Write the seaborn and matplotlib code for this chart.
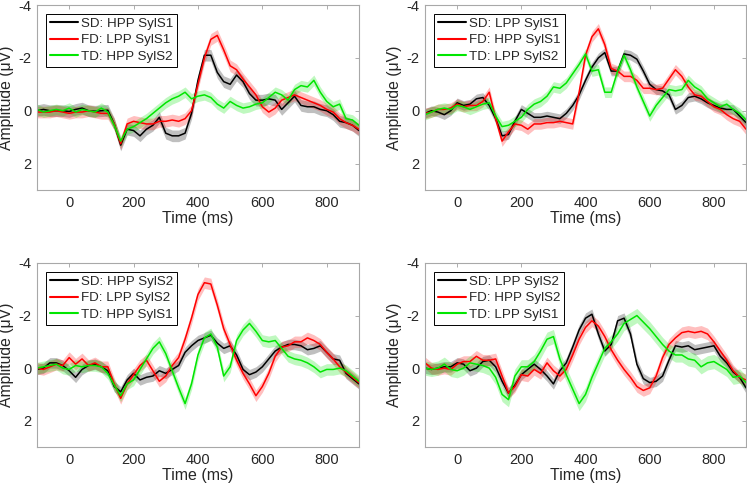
import numpy as np
import pandas as pd
import matplotlib
matplotlib.use("Agg")
import matplotlib.pyplot as plt
import seaborn as sns

# time axis (ms), one sample every 20 ms
time_ms = np.arange(-100, 901, 20)

# panel 1
p1_black = [0, -0.05, 0, 0, 0, 0.03, -0.05, -0.1, 0, 0.02, 0, -0.02, 0.5, 1.3, 0.7, 0.75, 0.95, 0.7, 0.55, 0.25,
            0.85, 0.95, 0.95, 0.85, 0.1, -1.15, -2.1, -2.1, -1.45, -1.1, -1.0, -1.35, -1.1, -0.65, -0.4, -0.4,
            -0.45, -0.4, -0.05, -0.3, -0.55, -0.2, -0.15, -0.15, -0.05, 0, 0.15, 0.4, 0.45, 0.55, 0.75]
p1_red = [0.05, 0.05, 0.05, 0, 0.05, 0.1, 0.05, 0.05, 0, 0.05, 0.1, 0.1, 0.5, 1.25, 0.5, 0.4, 0.45, 0.5, 0.5, 0.4,
          0.4, 0.35, 0.4, 0.3, 0.0, -1.0, -2.0, -2.7, -2.85, -2.3, -1.7, -1.55, -1.2, -0.9, -0.6, -0.15,
          0.05, -0.1, -0.4, -0.5, -0.6, -0.5, -0.4, -0.3, -0.2, -0.05, 0.05, 0.3, 0.45, 0.55, 0.7]
p1_green = [-0.05, 0.05, 0, -0.05, 0, -0.1, 0.05, -0.05, 0, 0.05, -0.1, 0.05, 0.55, 1.15, 0.7, 0.6, 0.45, 0.3,
            0.1, -0.1, -0.3, -0.45, -0.55, -0.7, -0.45, -0.55, -0.6, -0.5, -0.25, -0.1, -0.35, -0.2, -0.1,
            -0.15, -0.25, -0.3, -0.5, -0.7, -0.6, -0.4, -0.8, -0.95, -0.9, -1.15, -0.7, -0.35, -0.15, -0.25,
            0.3, 0.35, 0.55]

# panel 2
p2_black = [0.1, 0, 0.05, 0.15, 0, -0.3, -0.2, -0.25, -0.45, -0.5, -0.2, 0.3, 0.95, 0.9, 0.4, -0.05, 0.1, 0.25,
            0.25, 0.2, 0.25, 0.3, 0.1, -0.2, -0.6, -1.15, -1.65, -2.0, -2.2, -1.5, -1.5, -2.15, -2.1, -1.95,
            -1.5, -1.0, -0.8, -0.75, -0.6, -0.05, -0.2, -0.5, -0.55, -0.45, -0.3, -0.2, -0.1, -0.05, -0.05,
            0.2, 0.45]
p2_red = [0.1, 0.05, -0.05, -0.05, -0.1, -0.25, -0.15, -0.2, -0.2, -0.35, -0.7, 0.3, 1.15, 0.8, 0.5, 0.55, 0.7,
          0.5, 0.5, 0.45, 0.45, 0.4, 0.45, 0.5, -0.7, -2.1, -2.8, -3.1, -2.5, -1.6, -1.5, -1.3, -1.3, -1.15,
          -0.85, -0.85, -0.8, -0.85, -1.2, -1.55, -1.3, -0.9, -0.6, -0.55, -0.35, -0.15, -0.05, 0.15, 0.3,
          0.4, 0.7]
p2_green = [0.15, 0.05, -0.05, -0.1, -0.05, -0.2, -0.15, -0.05, -0.15, -0.25, -0.3, 0.2, 0.6, 0.55, 0.4, 0.25,
            -0.05, -0.25, -0.35, -0.55, -0.9, -0.85, -1.05, -1.4, -1.75, -2.15, -1.5, -1.55, -0.7, -0.7, -1.5,
            -2.1, -1.55, -0.9, -0.35, 0.2, -0.2, -0.5, -0.8, -0.75, -0.8, -1.15, -0.9, -0.75, -0.45, -0.3,
            -0.15, -0.25, -0.05, 0.1, 0.35]

# panel 3
p3_black = [0.05, 0, -0.2, -0.2, -0.1, 0.1, 0.35, 0.05, -0.1, -0.15, -0.05, 0.1, 0.7, 0.9, 0.45, 0.2, 0.45, 0.35,
            0.3, 0.1, 0.2, 0.05, -0.1, -0.6, -0.85, -1.05, -1.15, -1.25, -0.95, -0.75, -0.85, -0.5, 0.05, 0.25,
            0.15, -0.05, -0.35, -0.65, -0.8, -0.9, -0.9, -0.85, -0.7, -0.75, -0.85, -0.6, -0.35, -0.3, 0.2,
            0.4, 0.6]
p3_red = [0, 0.05, -0.05, -0.15, -0.1, -0.4, -0.15, -0.35, -0.1, -0.2, -0.05, -0.05, 0.6, 1.15, 0.6, 0.25, -0.1,
          -0.3, 0.1, 0.5, 0.3, -0.1, -0.4, -1.1, -1.9, -2.8, -3.25, -3.2, -2.4, -1.5, -0.9, -0.3, 0.2, 0.6,
          1.05, 0.7, 0.2, -0.45, -0.8, -0.85, -1.0, -1.0, -1.15, -1.05, -0.9, -0.6, -0.35, -0.05, 0.15, 0.35,
          0.55]
p3_green = [0, -0.05, -0.1, -0.15, 0, 0.05, -0.1, -0.05, -0.1, -0.1, -0.05, 0.2, 0.65, 1.05, 0.6, 0.45, 0.05,
            -0.35, -0.75, -1.0, -0.55, 0.1, 0.75, 1.35, 0.6, -0.5, -1.15, -1.3, -0.8, 0.3, -0.05, -1.05, -1.45,
            -1.7, -1.4, -1.05, -1.0, -1.05, -0.75, -0.45, -0.35, -0.3, -0.2, -0.05, 0.15, 0.05, 0.05, 0, 0.1,
            0.3, 0.5]

# panel 4
p4_black = [0, 0.05, 0, -0.05, -0.05, -0.2, -0.15, 0.1, 0, -0.25, -0.3, -0.05, 0.5, 0.95, 0.65, 0.25, 0.05,
            -0.15, 0.05, 0.3, 0.6, 0.1, -0.2, -0.8, -1.45, -1.9, -2.05, -1.3, -0.65, -0.9, -1.8, -1.9, -1.3,
            -0.15, 0.4, 0.55, 0.5, 0.3, -0.3, -0.85, -0.8, -0.85, -0.7, -0.75, -0.8, -0.85, -0.45, -0.2, 0.15,
            0.35, 0.75]
p4_red = [-0.2, 0, 0.05, 0, 0.05, -0.15, -0.25, -0.25, -0.45, -0.3, -0.3, -0.35, 0.3, 0.95, 0.7, 0.25, 0.3, 0.05,
          0.2, -0.2, 0.1, 0.3, 0.05, -0.5, -1.1, -1.55, -1.8, -1.6, -1.2, -0.7, -0.3, 0.05, 0.35, 0.7, 0.85,
          0.75, 0.3, -0.4, -0.9, -1.15, -1.35, -1.4, -1.35, -1.4, -1.3, -1.0, -0.65, -0.3, 0.1, 0.35, 0.45]
p4_green = [0, 0.05, 0, -0.15, 0.05, 0.1, 0, -0.2, -0.15, -0.1, 0, 0.35, 1.0, 1.2, 0.3, -0.05, -0.05, -0.25,
            -0.65, -1.1, -1.2, -0.35, 0.25, 0.8, 1.35, 1.0, 0.35, -0.2, -0.75, -1.0, -1.3, -1.7, -1.85, -2.0,
            -1.75, -1.5, -1.2, -0.9, -0.65, -0.5, -0.5, -0.35, -0.3, -0.05, -0.2, -0.25, -0.1, 0.05, 0.35,
            0.3, 0.55]

# standard error band half-width (uV), one per curve
p1_sem = [0.22, 0.22, 0.2]
p2_sem = [0.18, 0.2, 0.2]
p3_sem = [0.2, 0.22, 0.22]
p4_sem = [0.2, 0.22, 0.27]

p1_labels = ["SD: HPP SylS1", "FD: LPP SylS1", "TD: HPP SylS2"]
p2_labels = ["SD: LPP SylS1", "FD: HPP SylS1", "TD: LPP SylS2"]
p3_labels = ["SD: HPP SylS2", "FD: LPP SylS2", "TD: HPP SylS1"]
p4_labels = ["SD: LPP SylS2", "FD: HPP SylS2", "TD: LPP SylS1"]

colors = ["#000000", "#ff0000", "#00e600"]

sns.set_theme(style="white")
plt.rcParams["font.family"] = ["Liberation Sans", "DejaVu Sans"]
plt.rcParams["axes.unicode_minus"] = False

fig = plt.figure(figsize=(7.47, 4.92), dpi=100)
positions = [
    [0.0495, 0.6138, 0.431, 0.376],
    [0.569, 0.6138, 0.4297, 0.376],
    [0.0495, 0.0915, 0.431, 0.374],
    [0.569, 0.0915, 0.4297, 0.374],
]
panels = [
    ([p1_black, p1_red, p1_green], p1_sem, p1_labels),
    ([p2_black, p2_red, p2_green], p2_sem, p2_labels),
    ([p3_black, p3_red, p3_green], p3_sem, p3_labels),
    ([p4_black, p4_red, p4_green], p4_sem, p4_labels),
]

for pos, (curves, sems, labels) in zip(positions, panels):
    ax = fig.add_axes(pos)
    for vals, sem, col in zip(curves, sems, colors):
        vals = np.array(vals)
        ax.fill_between(time_ms, vals - sem, vals + sem, color=col, alpha=0.25, linewidth=0)
    for vals, lab, col in zip(curves, labels, colors):
        df = pd.DataFrame({"t": time_ms, "v": vals})
        sns.lineplot(data=df, x="t", y="v", color=col, linewidth=1.1, label=lab, ax=ax)
    ax.set_xlim(-100, 900)
    ax.set_ylim(3, -4)
    ax.set_xticks([0, 200, 400, 600, 800])
    ax.set_yticks([-4, -2, 0, 2])
    ax.set_xlabel("Time (ms)", fontsize=11.5, color="#262626", labelpad=1)
    ax.set_ylabel("Amplitude (\u03bcV)", fontsize=11.3, color="#262626")
    ax.yaxis.set_label_coords(-0.072, 0.5)
    ax.tick_params(direction="in", top=True, right=True, length=3, width=0.6, color="#a0a0a0",
                   labelsize=10.5, labelcolor="#262626", pad=4)
    for sp in ax.spines.values():
        sp.set_color("#a8a8a8")
        sp.set_linewidth(0.8)
    leg = ax.legend(loc="upper left", fontsize=9.6, frameon=True, fancybox=False, framealpha=1,
                    edgecolor="#000000", handlelength=2.1, borderpad=0.3, labelspacing=0.3,
                    handletextpad=0.25, borderaxespad=0.65)
    leg.get_frame().set_linewidth(0.7)
    for line in leg.get_lines():
        line.set_linewidth(1.5)

fig.savefig("out.png", dpi=100)
